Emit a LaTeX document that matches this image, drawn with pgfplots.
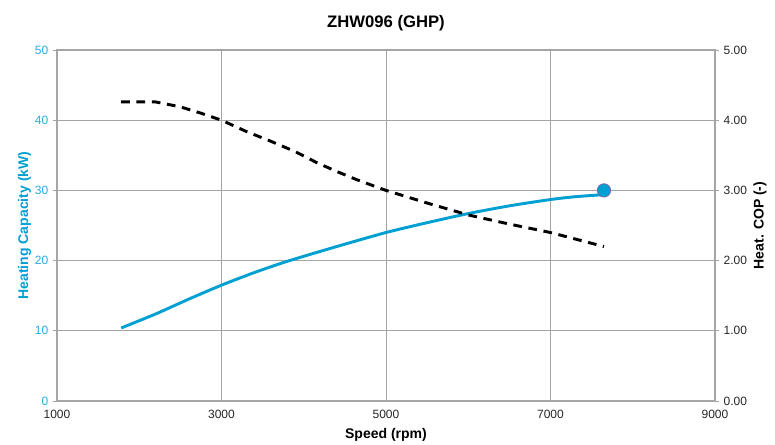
\documentclass[border=0pt]{standalone}
\usepackage{fontspec}
\setmainfont{Liberation Sans}
\usepackage{pgfplots}
\pgfplotsset{compat=1.18}
\definecolor{capblue}{RGB}{0,160,210}
\definecolor{tickblue}{RGB}{41,171,226}
\definecolor{gridgray}{RGB}{165,165,165}
\definecolor{markedge}{RGB}{130,100,170}
\begin{document}
\begin{tikzpicture}
\useasboundingbox (-42.75pt,-33pt) rectangle (538.5pt,300.75pt);
\begin{axis}[
  scale only axis, width=493.5pt, height=263.25pt,
  at={(0,0)}, anchor=south west,
  xmin=1000, xmax=9000, ymin=0, ymax=50,
  xtick={1000,3000,5000,7000,9000}, ytick={0,10,20,30,40,50},
  xtick pos=bottom, ytick pos=left,
  tick align=outside, major tick length=3pt,
  major x tick style={draw=none},
  major y tick style={gridgray, line width=0.6pt},
  axis line style={gridgray, line width=0.8pt},
  grid=major, grid style={gridgray, line width=0.7pt},
  /pgf/number format/assume math mode=true,
  /pgf/number format/set thousands separator={},
  tick label style={font=\fontsize{9}{10}\selectfont},
  yticklabel style={text=tickblue},
  xticklabel style={text=black!85},
  title={\textbf{ZHW096 (GHP)}},
  title style={font=\fontsize{12.5}{14}\selectfont, yshift=5pt},
  xlabel={\textbf{Speed (rpm)}},
  xlabel style={font=\fontsize{10.5}{12}\selectfont, yshift=-1pt},
  ylabel={\textbf{Heating Capacity (kW)}},
  ylabel style={font=\fontsize{10.5}{12}\selectfont, text=capblue, yshift=-4pt},
]
\addplot[capblue, line width=2.2pt, smooth, tension=0.4] coordinates {
 (1780,10.4) (2200,12.4) (2600,14.5) (3000,16.5) (3400,18.3) (3800,19.9)
 (4400,22.0) (5000,24.0) (5500,25.4) (6000,26.7) (6500,27.8) (7000,28.7)
 (7300,29.1) (7650,29.4)
};
\addplot[only marks, mark=*, mark size=5pt,
  mark options={fill=capblue, draw=markedge, line width=0.6pt}] coordinates {
 (7650,30.0)
};
\end{axis}
\begin{axis}[
  scale only axis, width=493.5pt, height=263.25pt,
  at={(0,0)}, anchor=south west,
  xmin=1000, xmax=9000, ymin=0, ymax=5,
  hide x axis,
  axis y line*=right,
  ytick={0,1,2,3,4,5},
  tick align=outside, major tick length=3pt,
  major y tick style={gridgray, line width=0.6pt},
  axis line style={gridgray, line width=0.8pt},
  /pgf/number format/assume math mode=true,
  yticklabel style={font=\fontsize{9}{10}\selectfont, text=black!85,
    /pgf/number format/.cd, fixed, fixed zerofill, precision=2},
  ylabel={\textbf{Heat. COP (-)}},
  ylabel style={font=\fontsize{10.5}{12}\selectfont, text=black, yshift=2pt},
]
\addplot[black, line width=2.2pt, dash pattern=on 6.5pt off 5pt] coordinates {
 (1780,4.26) (2200,4.26) (2500,4.19) (2750,4.10) (3000,4.00) (3300,3.84)
 (3600,3.70) (3900,3.55) (4150,3.40) (4400,3.27) (4650,3.15) (5000,3.00)
 (5500,2.82) (6000,2.65) (6500,2.52) (7000,2.40) (7650,2.20)
};
\end{axis}
\end{tikzpicture}
\end{document}
